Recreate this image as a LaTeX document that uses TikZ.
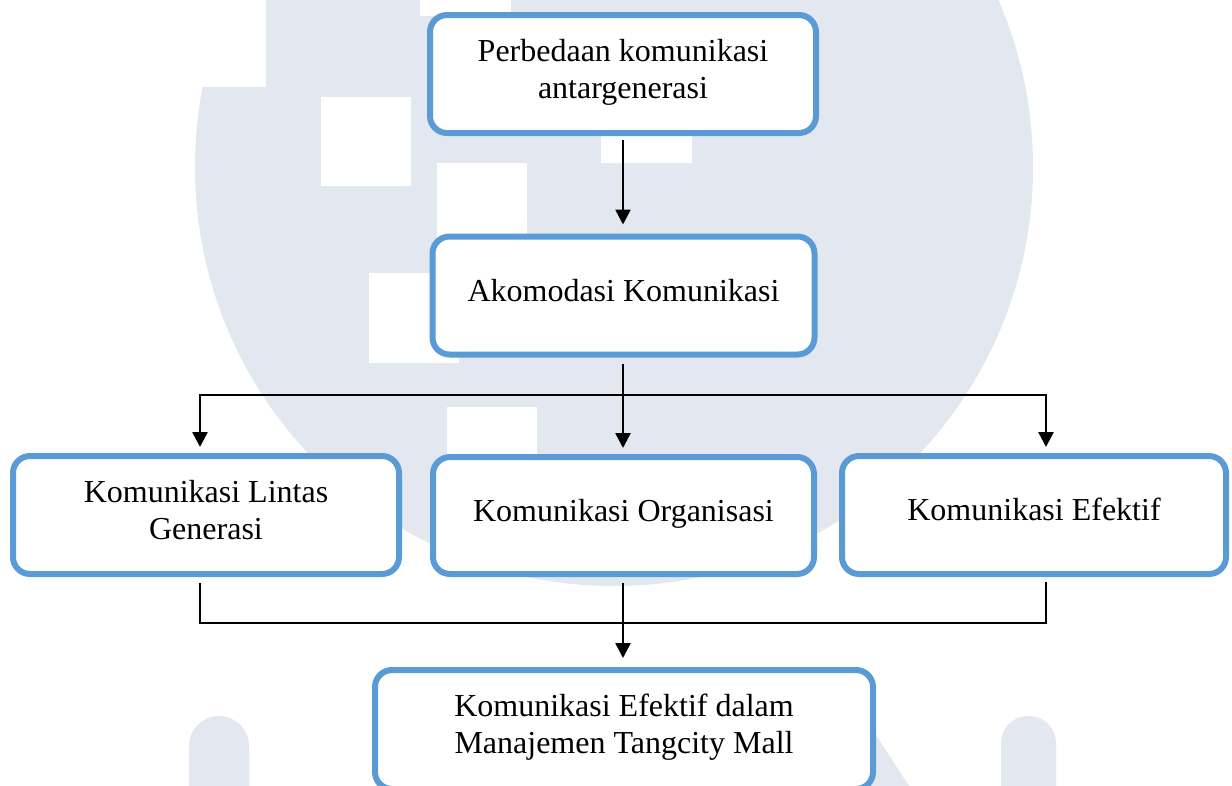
\documentclass[tikz,border=0pt]{standalone}
\usepackage{fontspec}
\setmainfont{Liberation Serif}
\usetikzlibrary{arrows.meta}
\definecolor{boxblue}{HTML}{5B9BD5}
\definecolor{wmgray}{HTML}{E3E8F0}
\newcommand{\dstrut}{\rule[-11pt]{0pt}{11pt}}
\tikzset{
  flowbox/.style={draw=boxblue, line width=6pt, rounded corners=17pt, fill=white,
    align=center, inner sep=0pt, font=\fontsize{32pt}{37pt}\selectfont},
  conn/.style={draw=black, line width=2.6pt},
  arr/.style={conn, -{Triangle[length=15pt,width=15pt]}},
  wm/.style={fill=wmgray}
}
\begin{document}
\begin{tikzpicture}[x=1pt,y=-1pt]
\useasboundingbox (0,0) rectangle (1232,785);
\clip (0,0) rectangle (1232,785);
\fill[white] (0,0) rectangle (1232,785);
% watermark
\fill[wm] (614,167) circle (419);
\fill[white] (180,-10) rectangle (266,87);
\fill[white] (420,-80) rectangle (511,16);
\fill[white] (321,97) rectangle (411,186);
\fill[white] (437,163) rectangle (527,253);
\fill[white] (369,273) rectangle (459,363);
\fill[white] (601,73) rectangle (692,163);
\fill[white] (447,407) rectangle (537,497);
\fill[wm, rounded corners=30pt] (189,716) rectangle (249,850);
\fill[wm, rounded corners=27pt] (1001,716) rectangle (1056,850);
\fill[wm] (820,700) -- (853,700) -- (915,795) -- (820,795) -- cycle;
% boxes
\node[flowbox, minimum width=386pt, minimum height=118pt] (b1) at (623,74)
  {Perbedaan komunikasi\\antargenerasi\dstrut};
\node[flowbox, minimum width=382pt, minimum height=118pt] (b2) at (623.5,295.5)
  {Akomodasi Komunikasi\dstrut};
\node[flowbox, minimum width=386pt, minimum height=118pt] (bl) at (206,515)
  {Komunikasi Lintas\\Generasi\dstrut};
\node[flowbox, minimum width=381pt, minimum height=117pt] (bm) at (623.5,515.5)
  {Komunikasi Organisasi\dstrut};
\node[flowbox, minimum width=384pt, minimum height=118pt] (br) at (1034,515)
  {Komunikasi Efektif\dstrut};
\node[flowbox, minimum width=498pt, minimum height=119pt] (bb) at (624,729.5)
  {Komunikasi Efektif dalam\\Manajemen Tangcity Mall\dstrut};
% junction coordinates
\coordinate (jm) at (623,395);
\coordinate (jl) at (200,395);
\coordinate (jr) at (1046,395);
\coordinate (ml) at (200,623);
\coordinate (mm) at (623,623);
\coordinate (mr) at (1046,623);
% connectors
\draw[arr, shorten <=4pt, shorten >=9pt] (b1.south -| jm) -- (b2.north -| jm);
\draw[conn, shorten <=6pt] (b2.south -| jm) -- (jm);
\draw[conn, line cap=rect] (jl) -- (jr);
\draw[arr, shorten >=6pt] (jl) -- (jl |- bl.north);
\draw[arr, shorten >=6pt] (jm) -- (jm |- bm.north);
\draw[arr, shorten >=6pt] (jr) -- (jr |- br.north);
\draw[conn, shorten <=6pt, line join=miter] (ml |- bl.south) -- (ml) -- (mr);
\draw[conn, shorten <=6pt, line cap=rect] (mr |- br.south) -- (mr);
\draw[arr, shorten <=6pt, shorten >=9pt] (mm |- bm.south) -- (mm |- bb.north);
\end{tikzpicture}
\end{document}
